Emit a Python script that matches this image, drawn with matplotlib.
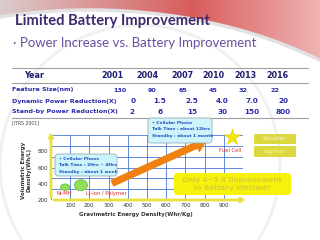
import numpy as np
import matplotlib.pyplot as plt
from matplotlib.patches import Ellipse, FancyBboxPatch, FancyArrowPatch, Circle

# table data (ITRS 2001)
years = ["2001", "2004", "2007", "2010", "2013", "2016"]
feature_size = ["130", "90", "65", "45", "32", "22"]
dynamic_red = ["0", "1.5", "2.5", "4.0", "7.0", "20"]
standby_red = ["2", "6", "15", "30", "150", "800"]
row_labels = ["Feature Size(nm)", "Dynamic Power Reduction(X)", "Stand-by Power Reduction(X)"]

# battery chart data
battery_names = ["Ni-MH", "Li-Ion / Polymer"]
grav_density = [73, 156]      # Whr/Kg
vol_density = [358, 382]      # Wh/L
trend_start = (307, 394)
trend_end = (818, 939)
fuel_cell = (943, 975)

title_font = "Lato"
body_font = "DejaVu Sans"

fig = plt.figure(figsize=(3.2, 2.4), dpi=100)

# background layer in pixel coords
bg = fig.add_axes([0, 0, 1, 1])
bg.set_xlim(0, 320)
bg.set_ylim(240, 0)
bg.axis("off")

xs = np.linspace(0, 1, 320)
left = np.array([0.86, 0.80, 0.80])
mid = np.array([0.85, 0.36, 0.36])
right = np.array([0.94, 0.70, 0.70])
cols = np.where(xs[:, None] < 0.6,
                left + (mid - left) * np.clip(xs[:, None] / 0.6, 0, 1),
                mid + (right - mid) * np.clip((xs[:, None] - 0.6) / 0.4, 0, 1))
img = np.repeat(cols[None, :, :], 90, axis=0)
bg.imshow(img, extent=(0, 320, 90, 0), aspect="auto", zorder=0)
bg.add_patch(Ellipse((90, 260), 764, 500, facecolor="white", edgecolor="#e2e2e2", lw=2.5, zorder=1))
bg.add_patch(Circle((140, 165), 140, fill=False, edgecolor="#f0f0f0", lw=2, zorder=1))

bg.text(15, 21, "Limited Battery Improvement", fontsize=10.6, fontweight="bold",
        color="#3d2b6b", va="center", family=title_font, zorder=3)
bg.text(13, 43, "\u00b7 Power Increase vs. Battery Improvement", fontsize=9.5,
        color="#6b4f9e", va="center", family=title_font, zorder=3)

# table
bg.plot([12, 308], [68, 68], color="#a0a0a0", lw=0.8, zorder=2)
bg.plot([12, 308], [83, 83], color="#a0a0a0", lw=0.8, zorder=2)
bg.plot([12, 308], [118, 118], color="#a0a0a0", lw=0.8, zorder=2)

year_x = [112, 147, 182, 213, 245, 277]
bg.text(24, 76, "Year", fontsize=5.8, fontweight="bold", color="#1c1c70",
        va="center", family=body_font, zorder=3)
for x, y in zip(year_x, years):
    bg.text(x, 76, y, fontsize=5.8, fontweight="bold", color="#1c1c70",
            ha="center", va="center", family=body_font, zorder=3)

rows_y = [90, 101, 112]
rows_x = [[120, 152, 183, 213, 243, 275],
          [133, 160, 192, 222, 252, 283],
          [132, 160, 192, 222, 252, 283]]
for lab, vals, ry, rx, fs in zip(row_labels, [feature_size, dynamic_red, standby_red],
                                 rows_y, rows_x, [4.6, 5.2, 5.2]):
    bg.text(12, ry, lab, fontsize=4.6, fontweight="bold", color="#2b2baa",
            va="center", family=body_font, zorder=3)
    for x, v in zip(rx, vals):
        bg.text(x, ry, v, fontsize=fs, fontweight="bold", color="#2b2baa",
                ha="center", va="center", family=body_font, zorder=3)

bg.text(12, 123, "[ITRS 2001]", fontsize=3.3, color="#444444", va="center",
        family=body_font, zorder=3)

# chart
ax = fig.add_axes([51 / 320, 1 - 200 / 240, 192 / 320, 65 / 240])
ax.set_xlim(0, 1000)
ax.set_ylim(200, 1000)
ax.set_xticks(range(100, 1000, 100))
ax.set_yticks([200, 400, 600, 800])
ax.set_xticks(range(0, 1001, 100), minor=True)
ax.set_yticks(np.linspace(200, 1000, 7), minor=True)
ax.xaxis.remove_overlapping_locs = False
ax.yaxis.remove_overlapping_locs = False
ax.grid(which="minor", color="#4a78d8", lw=0.6)
ax.tick_params(which="both", length=0, labelsize=4, colors="#333333", pad=2)
for s in ax.spines.values():
    s.set_visible(False)
ax.set_xlabel("Gravimetric Energy Density(Whr/Kg)", fontsize=4, fontweight="bold",
              color="#333333", family=body_font)
ax.set_ylabel("Volumetric Energy\nDensity(Wh/L)", fontsize=4, fontweight="bold",
              color="#333333", family=body_font)
ax.xaxis.set_label_coords(0.443, -0.19)
ax.yaxis.set_label_coords(-0.10, 0.46)

ax.annotate("", xy=(0, 1.09), xytext=(0, 0), xycoords="axes fraction",
            arrowprops=dict(arrowstyle="-|>", color="#e6e040", lw=2, mutation_scale=6))
ax.annotate("", xy=(1.03, 0), xytext=(0, 0), xycoords="axes fraction",
            arrowprops=dict(arrowstyle="-|>", color="#e6e040", lw=2, mutation_scale=6))

ew = [47, 68]
eh = [80, 135]
for x, y, w, h in zip(grav_density, vol_density, ew, eh):
    ax.add_patch(Ellipse((x, y), w, h, facecolor="#8ee05a", edgecolor="#6cc040", lw=0.6, zorder=4))
ax.text(31, 286, battery_names[0], fontsize=3.8, color="#e03030", va="center", zorder=5)
ax.text(182, 286, battery_names[1], fontsize=3.8, color="#e03030", va="center", zorder=5)

ax.add_patch(FancyArrowPatch(trend_start, trend_end,
                             arrowstyle="simple,head_length=1.0,head_width=1.4,tail_width=0.6",
                             mutation_scale=7, color="#f08010", zorder=5, clip_on=False))
ax.scatter([fuel_cell[0]], [fuel_cell[1]], marker="*", s=150, color="#f5e800",
           edgecolor="#e0c800", lw=0.4, clip_on=False, zorder=5)
ax.text(932, 815, "Fuel Cell", fontsize=3.8, color="#e03030", ha="center", va="center", zorder=5)

# overlay for callouts
ov = fig.add_axes([0, 0, 1, 1])
ov.set_xlim(0, 320)
ov.set_ylim(240, 0)
ov.patch.set_alpha(0)
ov.axis("off")

def callout(x, y, w, h, lines):
    ov.add_patch(FancyBboxPatch((x, y), w, h, boxstyle="round,pad=0,rounding_size=3",
                                fc="#cdf3fb", ec="#98b0b8", lw=0.6))
    for i, t in enumerate(lines):
        ov.text(x + 4, y + 5 + i * 6.3, t, fontsize=3.2, fontweight="bold",
                color="#2050c0", va="center", family=body_font)

callout(148, 118, 64, 25, ["\u2022 Cellular Phone", "Talk Time : about 12hrs", "Standby : about 1 month"])
callout(55, 154, 62, 22, ["\u2022 Cellular Phone", "Talk Time : 2Hrs ~ 4Hrs", "Standby : about 1 week"])

for y, h, t in [(134, 10, "Smaller"), (146, 11, "Lighter")]:
    ov.add_patch(FancyBboxPatch((254, y), 42, h, boxstyle="round,pad=0,rounding_size=1.5",
                                fc="#dcd840", ec="none"))
    ov.text(275, y + h / 2, t, fontsize=4.5, color="#f6f4b8", ha="center", va="center",
            family=body_font)

ov.add_patch(FancyBboxPatch((174, 173), 117, 22, boxstyle="round,pad=0,rounding_size=3",
                            fc="#f7f20c", ec="none"))
ov.text(232, 184, "Only 4~5 X Improvement\nin Battery lifetime!", fontsize=5, fontweight="bold",
        color="#d9cf30", ha="center", va="center", family=body_font, linespacing=1.3)

fig.savefig("out.png", dpi=100)
